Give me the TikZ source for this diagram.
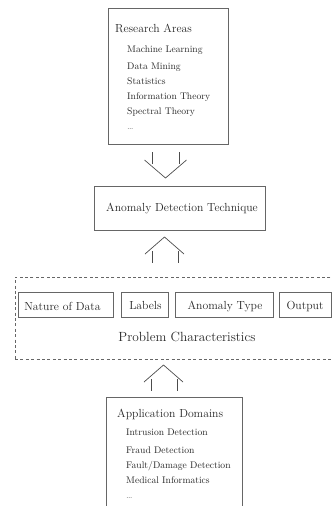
\documentclass[tikz,border=0pt]{standalone}
\usetikzlibrary{calc}
\begin{document}
\begin{tikzpicture}[x=1pt,y=-1pt,
  box/.style={draw=black!60, line width=0.7pt, inner sep=0pt},
  dashbox/.style={draw=black!60, line width=0.7pt, inner sep=0pt, dash pattern=on 3pt off 2.4pt},
  head/.style={font=\fontsize{11.7}{14}\selectfont, text=black!85, inner sep=0pt, anchor=base west},
  label/.style={font=\fontsize{11.7}{14}\selectfont, text=black!85, inner sep=0pt, anchor=base},
  big/.style={font=\fontsize{13.3}{16}\selectfont, text=black!85, inner sep=0pt, anchor=base},
  item/.style={font=\fontsize{9.6}{12}\selectfont, text=black!85, inner sep=0pt, anchor=base west},
  arr/.style={draw=black!70, line width=0.7pt},
  pics/downarrow/.style={code={
    \draw[arr] (-21,-18) -- (0,0) -- (21,-18);
    \draw[arr] (-13.5,-26) -- (-13.5,-14) (13.5,-26) -- (13.5,-14);}},
  pics/uparrow/.style={code={
    \draw[arr] (-19.5,17) -- (0,0) -- (19.5,17);
    \draw[arr] (-12.5,14) -- (-12.5,26) (13.5,14) -- (13.5,26);}}
]
\clip (0,0) rectangle (332,506);

% Research areas
\node[box, minimum width=120pt, minimum height=136pt] (research) at (168,76) {};
\node[head] (rhead) at (115,32) {Research Areas};
\node[item] (r1) at (127,52) {Machine Learning};
\node[item] (r2) at (127,69.5) {Data Mining};
\node[item] (r3) at (127,84.5) {Statistics};
\node[item] (r4) at (127,99.5) {Information Theory};
\node[item] (r5) at (127,114.5) {Spectral Theory};
\node[item, text=black!50] (r6) at (127,129) {\dots};

% Technique
\node[box, minimum width=171pt, minimum height=44pt] (technique) at (179.5,208) {};
\node[label] (tlabel) at (182,211) {Anomaly Detection Technique};

% Problem characteristics
\node[dashbox, minimum width=330pt, minimum height=82pt] (problem) at (180,318) {};
\node[box, minimum width=95pt, minimum height=25pt] (nature) at (65.5,304.5) {};
\node[label] (naturel) at (62.5,310) {Nature of Data};
\node[box, minimum width=47pt, minimum height=25pt] (labels) at (144.5,304.5) {};
\node[label] (labelsl) at (145.5,309) {Labels};
\node[box, minimum width=98pt, minimum height=25pt] (atype) at (224,304.5) {};
\node[label] (atypel) at (225,309) {Anomaly Type};
\node[box, minimum width=52.5pt, minimum height=25pt] (output) at (305.25,304.5) {};
\node[label] (outputl) at (305,309) {Output};
\node[big] (plabel) at (187,341.5) {Problem Characteristics};

% Application domains
\node[box, minimum width=136pt, minimum height=123pt] (apps) at (174,458.5) {};
\node[head] (ahead) at (117,417.5) {Application Domains};
\node[item] (a1) at (126,435.5) {Intrusion Detection};
\node[item] (a2) at (126,453) {Fraud Detection};
\node[item] (a3) at (126,468.5) {Fault/Damage Detection};
\node[item] (a4) at (126,483) {Medical Informatics};
\node[item, text=black!50] (a5) at (126,498) {\dots};

% Flow arrows between the blocks
\coordinate (tip1) at (165.5,178);
\coordinate (tip2) at (164.5,237);
\coordinate (tip3) at (163.5,365);
\pic at (tip1) {downarrow};
\pic at (tip2) {uparrow};
\pic at (tip3) {uparrow};
\end{tikzpicture}
\end{document}
